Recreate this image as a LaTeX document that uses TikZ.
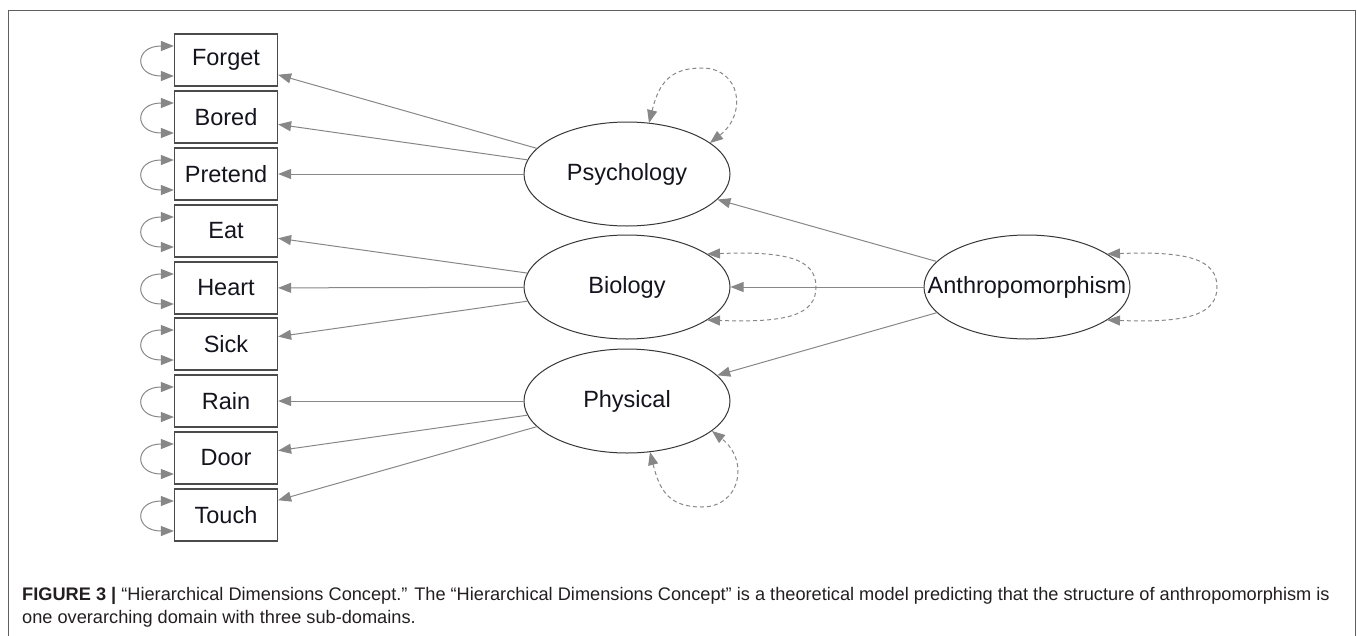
\documentclass[tikz,border=0pt]{standalone}
\usepackage{fontspec}
\setmainfont{Liberation Sans}
\usetikzlibrary{arrows.meta,shapes.geometric,calc}
\definecolor{edgegray}{RGB}{135,135,135}
\definecolor{boxline}{RGB}{75,75,75}
\definecolor{ellline}{RGB}{55,55,55}
\definecolor{framecol}{RGB}{95,95,95}
\definecolor{inkcol}{RGB}{20,20,30}
\definecolor{capcol}{RGB}{35,31,32}
\begin{document}
\begin{tikzpicture}[x=1pt,y=-1pt,
  tip/.tip={Triangle[length=13pt,width=10pt]},
  mbox/.style={draw=boxline,line width=1.2pt,fill=white,minimum width=103pt,minimum height=52pt,
    inner sep=0pt,text=inkcol,font=\fontsize{23.5}{26}\selectfont},
  latent/.style={ellipse,draw=ellline,line width=1pt,fill=white,minimum width=206pt,minimum height=104pt,
    inner sep=0pt,text=inkcol,font=\fontsize{23.5}{26}\selectfont},
  edge/.style={draw=edgegray,line width=1pt,-{tip}},
  vloop/.style={draw=edgegray,line width=1pt,{tip}-{tip}},
  dloop/.style={draw=edgegray,line width=1pt,dash pattern=on 4pt off 3pt,{tip}-{tip}},
  captext/.style={anchor=base west,inner sep=0pt,text=capcol,font=\fontsize{18.2}{22}\selectfont}]
\useasboundingbox (0,0) rectangle (1357,635);
% outer figure frame, open at the bottom
\draw[framecol,line width=1pt] (8,640) -- (8,10) -- (1355,10) -- (1355,640);

% observed indicators
\foreach \nm/\txt/\yy in {forget/Forget/60, bored/Bored/117, pretend/Pretend/174,
    eat/Eat/231, heart/Heart/288, sick/Sick/344, rain/Rain/401, door/Door/458, touch/Touch/515}{
  \node[mbox] (\nm) at (226,\yy) {\txt};
  \draw[vloop] ([yshift=14pt]\nm.west) .. controls +(-40,0) and +(-40,0) .. ([yshift=-16pt]\nm.west);
}

% latent factors
\node[latent] (psy) at (627,174) {\makebox[0pt]{Psychology}};
\node[latent] (bio) at (627,287) {\makebox[0pt]{Biology}};
\node[latent] (phys) at (627,401) {\makebox[0pt]{Physical}};
\node[latent] (anth) at (1027,287) {\makebox[0pt]{Anthropomorphism}};

% loadings
\foreach \src/\dst in {psy/forget, psy/bored, psy/pretend, bio/eat, bio/heart, bio/sick,
    phys/rain, phys/door, phys/touch, anth/psy, anth/bio, anth/phys}{
  \draw[edge] (\src) -- (\dst);
}

% residual variances of the latent factors
\draw[dloop] ($(psy.center)+(22,-51)$) .. controls +(10,-40) and +(-32,0) .. ($(psy.center)+(75,-106)$)
  .. controls +(38,0) and +(38,-30) .. ($(psy.center)+(83,-31)$);
\draw[dloop] ($(bio.center)+(80,-33)$) .. controls +(80,-3) and +(0,-28) .. ($(bio.center)+(189,0)$)
  .. controls +(0,28) and +(80,3) .. ($(bio.center)+(80,33)$);
\draw[dloop] ($(phys.center)+(23,51)$) .. controls +(10,40) and +(-32,0) .. ($(phys.center)+(75,106)$)
  .. controls +(38,0) and +(38,30) .. ($(phys.center)+(85,30)$);
\draw[dloop] ($(anth.center)+(80,-33)$) .. controls +(80,-3) and +(0,-28) .. ($(anth.center)+(190,0)$)
  .. controls +(0,28) and +(80,3) .. ($(anth.center)+(80,33)$);

% caption
\node[captext] (cap1) at (22,600)
  {\textbf{FIGURE 3 |} “Hierarchical Dimensions Concept.” The “Hierarchical Dimensions Concept” is a theoretical model predicting that the structure of anthropomorphism is};
\node[captext] (cap2) at (22,623)
  {one overarching domain with three sub-domains.};
\end{tikzpicture}
\end{document}
